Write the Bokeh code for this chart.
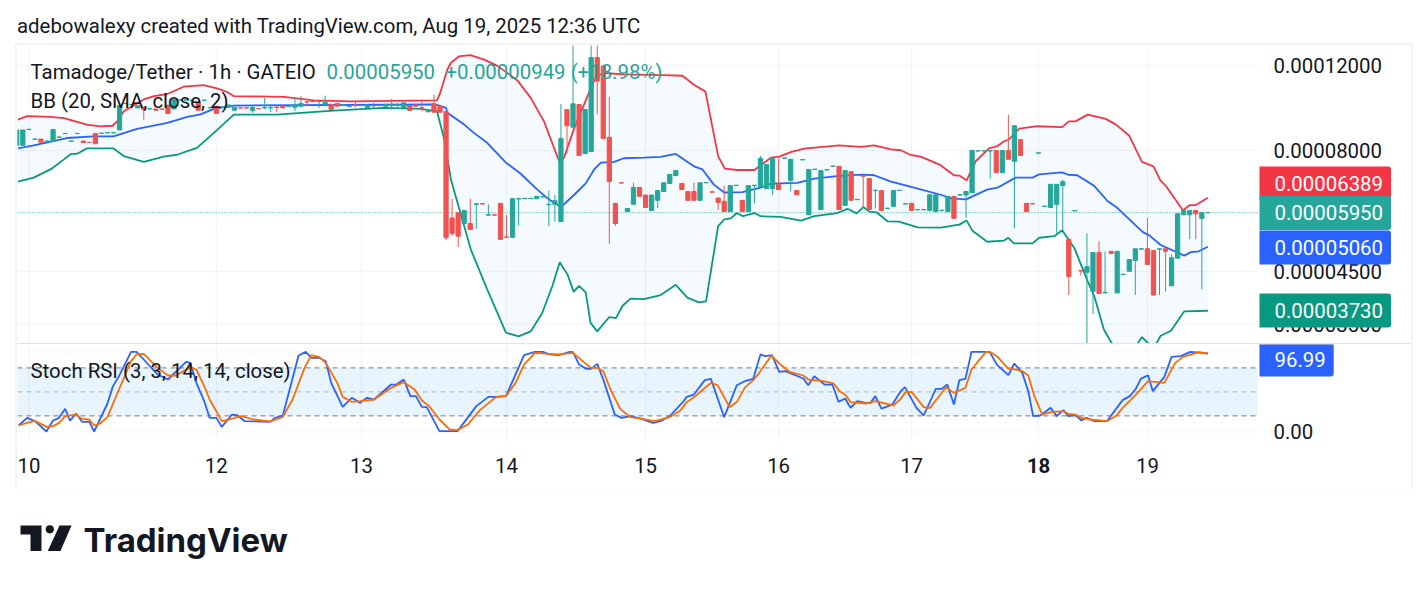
from bokeh.plotting import figure
from bokeh.layouts import column
from bokeh.core.properties import value
from bokeh.models import Range1d, Label, BoxAnnotation, ColumnDataSource, Div
from bokeh.embed import file_html
from bokeh.resources import INLINE

# ---------- text ----------
attribution = "adebowalexy created with TradingView.com, Aug 19, 2025 12:36 UTC"
symbol_text = "Tamadoge/Tether · 1h · GATEIO"
last_text = "0.00005950"
change_text = "+0.00000949 (+18.98%)"
bb_text = "BB (20, SMA, close, 2)"
stoch_text = "Stoch RSI (3, 3, 14, 14, close)"
brand_text = "TradingView"

# ---------- axes ----------
price_ticks = [3.5e-5, 4.5e-5, 8e-5, 12e-5]
price_tick_labels = ["0.00003500", "0.00004500", "0.00008000", "0.00012000"]
stoch_tick_label = "0.00"
day_ticks = [2, 33, 57, 81, 104, 126, 148, 169, 187]
day_labels = ["10", "12", "13", "14", "15", "16", "17", "18", "19"]
bold_day = "18"

# ---------- candles, prices in units of 0.00001 ----------
candle_open = [
 8.20,8.20,8.84,8.44,8.45,8.36,8.35,8.52,8.67,8.36,
 8.67,8.37,8.32,8.68,8.68,8.70,8.70,8.82,10.00,9.95,
 9.80,9.83,9.75,9.75,9.75,9.93,9.75,10.17,10.17,10.16,
 10.07,10.16,9.80,9.88,9.83,9.83,9.69,9.80,9.80,9.68,
 9.77,9.80,9.80,9.83,9.88,9.87,9.83,9.88,10.09,10.11,
 10.10,9.97,9.97,10.01,9.94,9.87,9.94,9.91,9.82,9.91,
 9.91,9.88,9.91,9.94,9.82,9.91,9.94,9.80,9.63,10.00,
 9.86,9.63,5.80,5.95,5.65,5.65,6.19,6.21,5.88,5.89,
 6.22,5.30,5.29,6.35,6.36,6.36,6.36,6.41,6.18,6.19,
 5.70,9.72,8.94,9.96,7.88,7.96,12.45,11.96,8.52,6.22,
 6.86,5.98,6.19,6.71,6.47,6.01,6.31,6.58,6.84,7.10,
 6.84,6.58,6.58,6.31,6.86,6.57,6.38,6.28,5.98,6.77,
 6.31,5.98,6.77,6.74,6.67,6.67,6.80,7.71,6.94,6.61,
 7.65,5.89,7.31,6.04,7.29,7.42,7.42,6.16,7.23,6.33,
 7.09,7.00,6.61,6.61,6.07,6.13,6.61,6.20,6.22,6.03,
 6.03,6.01,5.98,6.01,5.98,6.43,6.47,6.47,6.54,7.98,
 7.98,7.98,8.00,7.20,8.00,7.60,8.43,6.22,6.21,7.90,
 6.13,6.10,6.19,6.77,5.24,6.00,4.52,4.48,4.09,4.92,
 4.06,4.95,4.06,4.43,4.50,4.74,5.00,5.01,4.97,5.00,
 5.01,4.20,4.79,5.89,5.89,6.01,5.79,5.95]
candle_high = [
 8.82,8.82,8.85,8.45,8.45,8.37,8.84,8.53,8.68,8.37,
 8.68,8.37,8.32,8.68,8.69,8.71,8.71,9.91,10.01,9.96,
 9.90,9.83,9.76,9.75,9.75,9.93,10.20,10.18,10.18,10.17,
 10.07,10.17,9.81,9.88,9.84,9.94,9.82,9.80,9.80,9.91,
 9.77,10.28,9.96,9.93,9.88,9.88,10.31,10.36,10.09,10.11,
 10.11,10.39,9.97,10.01,9.95,9.94,10.15,9.92,9.94,10.04,
 9.92,9.97,10.23,10.04,10.04,9.91,9.94,10.20,9.63,10.44,
 9.86,9.63,6.36,5.95,6.01,6.36,6.21,6.21,6.19,5.89,
 6.22,5.89,6.36,6.36,6.37,6.37,6.43,6.42,6.61,6.47,
 9.99,9.72,14.50,9.96,9.72,14.50,14.50,12.00,10.33,6.22,
 6.86,6.07,6.86,6.71,6.47,6.47,6.61,6.86,7.14,7.27,
 6.84,6.58,6.86,6.86,6.87,6.57,6.38,6.77,6.77,6.78,
 6.31,6.77,6.78,7.80,7.48,7.71,7.71,7.72,7.67,6.61,
 7.66,7.31,7.32,7.27,7.30,7.43,7.42,7.27,7.23,6.34,
 7.09,7.00,6.62,6.61,6.08,6.61,6.62,6.21,6.22,6.04,
 6.04,6.48,6.48,6.02,6.43,6.43,6.48,6.58,8.00,7.99,
 7.99,7.99,8.00,8.00,9.48,9.00,8.43,6.22,6.21,7.91,
 6.14,6.81,6.81,6.97,5.24,6.01,4.52,5.39,4.92,5.19,
 4.95,4.95,4.95,4.44,4.76,5.01,5.01,5.81,4.97,5.01,
 5.01,4.88,5.92,6.01,6.01,6.01,5.95,5.96]
candle_low = [
 8.20,8.20,8.84,8.44,8.32,8.36,8.35,8.52,8.67,8.36,
 8.67,8.31,8.31,8.26,8.68,8.70,8.70,8.82,10.00,9.95,
 9.80,9.27,9.75,9.69,9.74,9.54,9.75,10.17,10.17,10.16,
 9.69,10.16,9.80,9.54,9.83,9.83,9.69,9.79,9.79,9.57,
 9.76,9.75,9.60,9.60,9.80,9.87,9.65,9.85,9.88,10.10,
 9.80,9.88,9.73,9.88,9.94,9.83,9.83,9.91,9.82,9.80,
 9.91,9.88,9.72,9.75,9.82,9.68,9.88,9.65,9.62,9.60,
 9.60,5.22,5.32,5.05,5.65,5.49,5.51,6.20,5.88,5.88,
 5.24,5.29,5.29,5.60,6.36,6.36,6.36,6.41,5.58,5.70,
 5.70,7.88,8.94,7.81,7.88,7.96,9.50,8.47,5.13,5.58,
 6.85,5.98,6.19,6.43,6.10,6.01,6.08,6.58,6.84,7.10,
 6.64,6.31,6.31,6.31,6.86,6.56,6.02,5.98,5.98,6.77,
 5.98,5.98,6.22,6.74,6.67,6.48,6.64,7.71,6.58,6.48,
 7.65,5.89,7.31,6.04,7.29,7.42,6.04,6.16,6.31,6.33,
 6.09,6.04,6.07,6.01,6.07,6.13,6.61,6.20,6.01,6.03,
 6.03,6.01,5.98,6.01,5.98,5.79,6.47,5.81,6.54,7.98,
 7.98,7.00,7.20,7.20,7.67,5.52,7.81,5.98,6.20,7.90,
 6.13,6.10,5.39,5.47,4.02,6.00,4.41,3.10,3.67,4.05,
 4.06,4.90,4.06,4.43,4.50,4.02,5.00,4.65,4.02,4.02,
 4.09,4.20,4.79,5.89,5.24,5.24,4.13,5.94]
candle_close = [
 8.82,8.82,8.85,8.45,8.32,8.37,8.84,8.53,8.68,8.37,
 8.68,8.31,8.31,8.26,8.69,8.71,8.71,9.91,10.01,9.96,
 9.90,9.72,9.76,9.69,9.74,9.54,10.20,10.18,10.18,10.17,
 9.69,10.17,9.81,9.54,9.84,9.94,9.82,9.79,9.79,9.82,
 9.76,9.81,9.81,9.82,9.80,9.88,9.94,10.01,10.08,10.10,
 10.11,10.07,9.73,9.88,9.95,9.88,9.93,9.92,9.94,9.90,
 9.92,9.97,9.97,9.95,10.04,9.68,9.88,9.79,9.62,9.60,
 9.60,5.28,5.39,5.32,6.01,5.49,6.21,6.20,5.89,5.88,
 5.24,5.29,6.36,6.36,6.37,6.37,6.43,6.42,6.19,6.30,
 8.47,9.00,9.99,7.81,9.72,12.45,11.14,8.47,6.90,5.65,
 6.85,6.07,6.71,6.43,6.10,6.47,6.61,6.86,7.14,7.27,
 6.64,6.31,6.31,6.86,6.87,6.56,6.25,5.98,6.77,6.78,
 5.98,6.77,6.78,7.71,7.48,7.71,6.64,7.72,7.67,6.48,
 7.66,7.31,7.32,7.27,7.30,7.43,6.04,7.27,6.31,6.34,
 7.08,6.04,6.62,6.01,6.08,6.61,6.62,6.21,6.01,6.04,
 6.04,6.48,6.48,6.02,6.43,5.79,6.48,6.58,8.00,7.99,
 7.99,7.99,7.20,8.00,7.67,9.00,7.81,5.98,6.20,7.91,
 6.14,6.81,6.81,6.90,4.39,6.01,4.51,4.60,4.92,4.05,
 4.07,4.90,4.95,4.44,4.76,5.01,5.01,4.65,4.02,5.01,
 4.95,4.80,5.92,6.01,6.01,5.92,5.95,5.95]

# ---------- Bollinger bands ----------
bb_upper_bar = [0.2,1.7,5.6,7.8,9.4,11.6,13.8,15.8,16.6,17.7,21,22.7,24.9,27.6,30.9,33.1,34.8,35.9,44.2,49.1,55.2,69.5,70,71.2,71.8,73.1,75,77.3,79.5,82.8,85,87.2,89.7,90.5,92.2,94.4,95.8,97.1,100.4,107,110.1,112,113.9,116,117.1,119.2,122,124.7,126.1,128,130.2,136,139.6,141.8,144.6,146.2,147.9,149.5,152.8,155,155.9,157.1,158.6,160.8,162.2,163.3,164.1,165.8,168.8,172.9,174,175.1,177.1,180.1,181.8,184,186.1,188,189.2,190,192.9,194,195,197]
bb_upper = [9.27,9.42,9.39,9.33,9.21,9.05,8.97,9.0,9.19,9.64,10.2,10.36,10.47,10.84,10.92,10.75,10.57,10.36,10.33,10.16,10.11,10.16,10.5,11.75,12.15,12.52,12.6,12.33,11.97,11.17,10.28,9.19,7.6,7.73,8.9,10.36,11.4,11.57,11.49,11.45,11.42,10.94,10.59,7.79,7.34,7.29,7.29,7.73,7.77,7.94,8.07,8.2,8.14,8.2,8.04,8.01,7.83,7.77,7.46,7.11,7.1,6.94,7.6,8.08,8.17,8.36,8.43,8.88,8.98,8.94,9.19,9.19,9.49,9.3,9.05,8.58,7.58,7.42,6.92,6.77,6.01,6.17,6.17,6.39]
bb_basis_bar = [0.2,2.8,8.3,12.7,16,19.9,24.9,28.2,30.4,32.6,35.9,69,69.6,71,71.2,74,75.6,77.8,80.9,83.3,86.1,88,90,92.2,94.1,95.5,96.6,98.8,100.4,103.7,106.5,109,112,113.4,115.3,117,120,123,124.7,129.1,131.9,136,139.9,141.8,144.6,148.4,152.8,154.5,157,160.5,162.2,165.2,168,169.1,172.9,174,175.4,178.2,180.4,182,186.2,187.3,189.2,193.1,194.2,195.5,197]
bb_basis = [8.08,8.2,8.49,8.56,8.56,8.87,9.12,9.39,9.5,9.75,9.91,9.96,9.93,9.8,9.58,9.05,8.7,8.3,7.55,7.17,6.64,6.34,6.11,6.48,6.84,7.31,7.55,7.58,7.71,7.73,7.76,7.87,7.42,7.31,6.8,6.55,6.56,6.7,6.83,6.86,7.0,7.09,7.13,7.11,6.9,6.7,6.48,6.37,6.34,6.64,6.7,7.03,7.03,7.14,7.21,7.12,7.11,6.76,6.29,6.09,5.43,5.34,5.1,4.85,4.93,4.95,5.06]
bb_lower_bar = [0.2,2.8,5.8,7.8,8.9,10,11.6,16,17.7,21,24.3,26.5,29.8,32.6,35.9,43,52.4,60.7,66.8,69.5,70.7,71.8,74,75.1,77.8,80.9,83,85,86.9,88.6,89.8,91.1,92.1,93,94.1,94.9,96,98,99.1,100.2,101.5,103.7,106.5,109,110.9,112.8,114,116,117,118.1,119.1,120.1,122,123,126.3,129.7,131.9,135.7,137.4,138.9,140,141,142.2,144,145.9,149,152.8,155.9,157.1,158.1,160.5,163.3,164,164.9,168,169.1,171.6,172.9,174.9,177.1,178.2,179.8,181.2,183.7,185.3,186.1,187.3,188.4,189.2,190.9,193.1,197]
bb_lower = [6.9,7.03,7.34,7.67,7.86,7.88,8.08,8.08,7.79,7.58,7.77,7.84,8.1,8.7,9.49,9.49,9.67,9.8,9.75,9.64,8.43,6.97,5.58,4.99,4.13,3.36,3.3,3.38,3.69,4.2,4.7,4.43,4.08,4.2,4.07,3.52,3.38,3.62,3.6,3.82,3.95,3.94,4.02,4.22,3.97,3.88,3.9,5.58,5.76,5.79,5.94,5.85,5.94,5.85,5.83,5.73,5.85,5.94,6.06,5.93,6.11,5.98,5.96,5.71,5.7,5.55,5.54,5.62,5.73,5.45,5.18,5.21,5.28,5.14,5.14,5.28,5.32,5.47,5.03,4.3,4.0,3.41,3.18,3.07,3.18,3.29,3.18,3.18,3.31,3.39,3.72,3.73]

# ---------- Stochastic RSI ----------
stoch_k_bar = [0.3,1.7,3,4.9,6,7,8,8.8,9.8,10.8,12,12.8,15,15.9,16.9,18.9,19.8,21,23.3,25,28,28.7,29.7,31,31.9,33,33.9,35.6,36.5,37.7,41.9,42.7,44,46.6,47.8,48.7,50,51.1,52,53.9,55.4,56.8,57.9,59.1,61.9,62.8,64,65.1,66,67,67.8,69.9,72.9,76,78,79.3,80.9,83.9,85.7,87,88.1,89.6,91.5,92,93,94.2,95,96,97,98.9,100,101.5,103.2,105.2,106.5,108.1,110.3,110.8,112,113.8,114.8,117,119.1,120.4,121.8,123,123.8,124.9,126.1,127.1,130.1,130.9,131.9,133.6,134.9,135.9,137,137.9,139,140.4,141.2,142,143,144.8,146.2,146.9,148.8,150,152,153,153.9,155,155.9,156.9,157.9,160.9,162.1,164,165,166.3,167.3,168.1,169.3,171,172,173.1,173.9,175.1,176.1,176.9,178.3,180.3,182.9,184.1,185.1,185.9,187.1,187.9,189.8,191,192.5,194.1,197]
stoch_k = [8,17.6,13.4,0.5,14.2,17.6,28.8,14.2,23,12.6,12.6,0.5,35.5,57.2,69.7,100,100,90.5,71.7,65.5,87.6,86.3,61.3,38.4,17.6,17.6,6.3,21.7,20.5,13.4,12.6,17.6,20.5,95.5,100,92.6,92.6,88.4,61.3,31.3,42.6,36.3,42.6,40.5,59.2,59.2,65.5,44.7,44.7,31.3,30.9,1,1,32.2,43.8,43.8,44.7,95.9,100,100,96.8,95.9,100,99.7,84.2,78.8,78.8,85.1,65.5,21.7,17.6,19.7,16.7,11.3,13.4,20.5,38.4,43.8,46.7,64.7,66.3,18.4,58.4,63.4,66.3,96.8,94.7,95.9,75.1,75.9,66.7,58.4,69.7,59.2,59.2,37.6,41.7,30.1,38.4,36.3,36.3,44.7,29.2,34.2,50.9,55.9,30.1,20.5,53.8,53.8,59.2,34.2,64.7,66.3,100,100,84.2,70.9,85.5,73.8,50.9,19.7,20.5,30.1,19.7,27.2,19.7,20.9,14.2,17.6,13.4,13.4,39.7,44.7,54.2,66.3,70.9,50.9,68.8,93.8,94.7,100,98]
stoch_d_bar = [0.3,1.7,3,4.9,6,7,8,9.8,10.8,12,12.8,13.8,15,16.9,18.9,19.8,21,23.3,25,26.3,28.7,29.7,31,31.9,33,33.9,35.1,37.1,39.2,41.9,44,45.6,47.6,48.7,50,51.1,53,53.9,55.4,56.8,59.1,61.9,64,65.8,67,68.2,69.9,71.6,72.9,74.6,76.6,79.3,80.9,82.5,83.9,85.7,88.1,89.6,92,93.8,95,96,97,98.2,99.8,101.5,103.2,105.5,108.1,109.8,110.8,112.1,113.5,114.8,115.9,117.9,119.1,120.4,121.8,122.8,124.8,126.1,127.8,130.1,130.9,133.4,135.1,136.1,137,137.9,140.4,142,145,146.2,147,148,150,151,153.7,155,156.9,157.9,160.3,161,162.1,164,165.3,166.3,167.3,168.3,169.6,171,173.1,173.9,175.1,176.1,177.6,180.3,181.9,182.9,185.1,187.1,189.8,191.6,192.9,195.5,197]
stoch_d = [8,11.3,13.8,6.3,7.2,11.3,19.7,21.7,16.3,15.5,8,10.5,18.8,53,88.4,96.8,97.6,80,70.5,70.5,80.9,78,57.2,40.5,25.9,13.4,15.5,19.7,15.5,13,18.8,40.5,80,95.9,93.8,86.3,61.3,43.8,37.6,38.4,40.5,55.1,62.2,53,39.2,32.2,15.5,3,2.2,9.2,27.2,43.8,44.7,61.3,84.2,98.8,97.6,96.8,98.8,87.2,80,80,75.9,53,28.8,18.4,16.7,13.4,18.8,27.2,37.2,43.8,53,61.3,58.4,30.9,37.6,55.1,64.7,73.8,95.5,85.5,75.1,70.5,65.5,63.4,60.5,50.9,46.7,37.2,35.5,38.4,33,41.3,49.7,50.1,30.9,29.7,55.9,48.8,55.1,78,100,100,94.7,78.8,78,75.9,70.5,44.7,21.7,24.7,25.9,22.6,21.7,17.6,15.5,13.4,20.5,30.1,46.7,63.4,61.3,86.3,93.8,99.7,98]

# ---------- last-value badges ----------
badge_upper = "0.00006389"
badge_last = "0.00005950"
badge_basis = "0.00005060"
badge_lower = "0.00003730"
badge_stoch = "96.99"

last_price = 5.95e-5
UNIT = 1e-5
TEAL, RED = "#26a69a", "#ef5350"
INK = "#131722"
GRID = "#f1f3f7"
FONT = "Roboto"
# each frame runs to the outer border; the plotting area stops at PLOT_END
X_START, PLOT_END, FRAME_END, TICK_X = 0.116, 205.2, 230.68, 207.85
PRICE_MIN, PRICE_MAX = 3.191e-5, 13.19e-5
STOCH_FRAME_MIN, STOCH_MIN, STOCH_MAX = -70.75, -12, 109.25
DAY_LABEL_Y = -42
LINE_W = 1.8
FONT_SIZE = "20.4px"


def bare(fig):
    fig.axis.visible = False
    fig.grid.visible = False
    fig.outline_line_color = None
    return fig


def text(fig, s, x, y, color=INK, size=FONT_SIZE, **kw):
    lab = Label(x=x, y=y, x_units="screen", y_units="screen", text=s, text_color=color,
                text_font=FONT, text_font_size=size, text_baseline="middle", **kw)
    fig.add_layout(lab)
    return lab


def badge(fig, s, y, color):
    fig.add_layout(Label(x=1242, y=y, x_units="screen", y_units="screen", text=s, text_color="white",
                         text_font=FONT, text_font_size=FONT_SIZE, text_baseline="middle",
                         background_fill_color=color, padding=(15, 8, 9, 10), border_radius=(0, 3, 3, 0)))


def tick_text(fig, xs, ys, labels, **kw):
    fig.text(xs, ys, text=labels, text_color=INK, text_font=value(FONT), text_font_size=FONT_SIZE,
             text_baseline="middle", **kw)


# header
header = bare(figure(width=1412, height=37, x_range=(0, 1412), y_range=(0, 37), toolbar_location=None,
                     output_backend="svg", min_border=0))
text(header, attribution, 8.5, 20)

# price pane
xr = Range1d(X_START, FRAME_END)
price = bare(figure(width=1394, height=298, x_range=xr, y_range=Range1d(PRICE_MIN, PRICE_MAX),
                    y_axis_type="log", toolbar_location=None, output_backend="svg", min_border=0))
price.segment(day_ticks, PRICE_MIN, day_ticks, PRICE_MAX, line_color=GRID, line_width=1)
price.segment(X_START, price_ticks, PLOT_END, price_ticks, line_color=GRID, line_width=1)

up = [v * UNIT for v in bb_upper]
lo = [v * UNIT for v in bb_lower]
price.patch(bb_upper_bar + bb_lower_bar[::-1], up + lo[::-1], fill_color="#2196f3", fill_alpha=0.05,
            line_color=None)
price.line([X_START, PLOT_END], [last_price, last_price], line_color=TEAL, line_width=1, line_dash=[1, 2])
price.line(bb_upper_bar, up, line_color="#f23645", line_width=LINE_W)
price.line(bb_basis_bar, [v * UNIT for v in bb_basis], line_color="#2962ff", line_width=LINE_W)
price.line(bb_lower_bar, lo, line_color="#089981", line_width=LINE_W)

bars = list(range(len(candle_open)))
colors = [TEAL if c >= o else RED for o, c in zip(candle_open, candle_close)]
src = ColumnDataSource(dict(
    x=bars,
    o=[v * UNIT for v in candle_open],
    h=[v * UNIT for v in candle_high],
    l=[v * UNIT for v in candle_low],
    c=[v * UNIT for v in candle_close],
    color=colors,
))
price.segment("x", "h", "x", "l", color="color", line_width=1, source=src)
price.vbar("x", 0.7, "o", "c", fill_color="color", line_color="color", line_width=1, source=src)
tick_text(price, [TICK_X] * len(price_ticks), price_ticks, price_tick_labels)

text(price, symbol_text, 13, 272)
text(price, last_text, 309, 272, color=TEAL)
text(price, change_text, 428, 272, color=TEAL)
text(price, bb_text, 13, 243)

badge(price, badge_upper, 160, "#f23645")
badge(price, badge_last, 130.5, TEAL)
badge(price, badge_basis, 96, "#2962ff")
badge(price, badge_lower, 33, "#089981")

sep = Div(width=1394, height=1, margin=0, styles={"background": "#e0e3eb"})

# stochastic pane
stoch = bare(figure(width=1394, height=144, x_range=xr, y_range=Range1d(STOCH_FRAME_MIN, STOCH_MAX),
                    toolbar_location=None, output_backend="svg", min_border=0))
stoch.segment(day_ticks, STOCH_MIN, day_ticks, STOCH_MAX, line_color=GRID, line_width=1)
stoch.segment(X_START, [0, 100], PLOT_END, [0, 100], line_color=GRID, line_width=1)
stoch.quad(left=[X_START], right=[PLOT_END], bottom=[20], top=[80], fill_color="#2196f3",
           fill_alpha=0.1, line_color=None)
for level, alpha in ((80, 1), (50, 0.5), (20, 1)):
    stoch.line([X_START, PLOT_END], [level, level], line_color="#787b86", line_alpha=alpha, line_width=1,
               line_dash=[5, 4])
stoch.line(stoch_k_bar, stoch_k, line_color="#2962ff", line_width=LINE_W)
stoch.line(stoch_d_bar, stoch_d, line_color="#ff6d00", line_width=LINE_W)

tick_text(stoch, [TICK_X], [0], [stoch_tick_label])
plain = [(t, s) for t, s in zip(day_ticks, day_labels) if s != bold_day]
strong = [(t, s) for t, s in zip(day_ticks, day_labels) if s == bold_day]
tick_text(stoch, [t for t, _ in plain], [DAY_LABEL_Y] * len(plain), [s for _, s in plain], text_align="center")
tick_text(stoch, [t for t, _ in strong], [DAY_LABEL_Y] * len(strong), [s for _, s in strong],
          text_align="center", text_font_style="bold")

text(stoch, stoch_text, 13, 118)
stoch.add_layout(BoxAnnotation(left=1242, right=1315, top=144, bottom=142, left_units="screen",
                               right_units="screen", top_units="screen", bottom_units="screen",
                               fill_color="#ff6d00", fill_alpha=1, line_color=None))
badge(stoch, badge_stoch, 129, "#2962ff")

pane = column(price, sep, stoch, margin=(0, 0, 0, 9), styles={"outline": "2px solid #f3f4f6"})

# footer with the logo
footer = bare(figure(width=1412, height=90, x_range=(8, 1420), y_range=(580, 490), toolbar_location=None,
                     output_backend="svg", min_border=0))
footer.patch([20, 41, 41, 30, 30, 20], [527, 527, 552.5, 552.5, 536, 536], fill_color=INK, line_color=None)
footer.circle([49.3], [530.8], radius=4.1, fill_color=INK, line_color=None)
footer.patch([59, 71, 60, 47.3], [527, 527, 552.5, 552.5], fill_color=INK, line_color=None)
footer.add_layout(Label(x=83, y=541, x_units="data", y_units="data", text=brand_text, text_color=INK,
                        text_font="Inter", text_font_size="33px", text_font_style="bold",
                        text_baseline="middle"))

page = column(header, pane, footer, margin=(8, 0, 0, 8))
open("out.html", "w").write(file_html(page, INLINE))
